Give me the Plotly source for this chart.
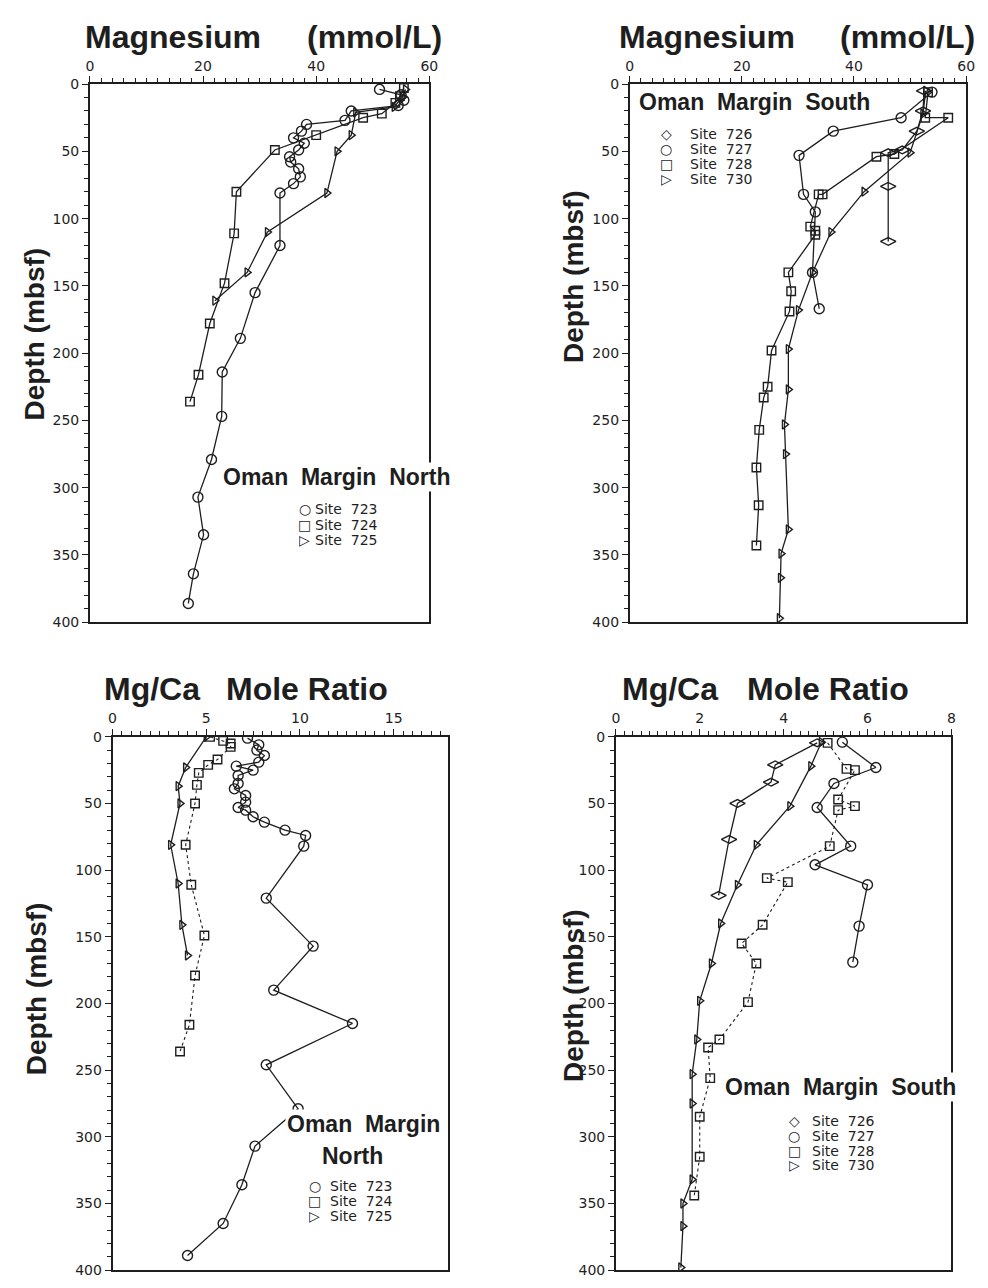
import plotly.graph_objects as go

W, H = 988, 1288

# ---------------- DATA ----------------
# Top-left: Magnesium (mmol/L), Oman Margin North
tl_723_depth = [4, 8, 12, 16, 20, 27, 30, 35, 40, 44, 49, 54, 58, 63, 69, 74, 81, 120, 155, 189, 214, 247, 279, 307, 335, 364, 386]
tl_723_mg = [51.2, 55.0, 55.5, 54.5, 46.2, 45.1, 38.3, 37.4, 36.0, 37.9, 36.9, 35.3, 35.5, 36.9, 37.2, 36.0, 33.6, 33.6, 29.2, 26.6, 23.4, 23.3, 21.5, 19.1, 20.1, 18.3, 17.4]
tl_724_depth = [3, 9, 14, 22, 25, 38, 49, 80, 111, 148, 178, 216, 236]
tl_724_mg = [55.5, 54.8, 54.0, 51.6, 48.3, 40.0, 32.7, 25.9, 25.5, 23.8, 21.2, 19.2, 17.7]
tl_725_depth = [4, 10, 17, 21, 38, 50, 81, 110, 140, 161]
tl_725_mg = [55.8, 55.2, 53.8, 47.0, 46.2, 43.7, 41.9, 31.4, 27.8, 22.1]

# Top-right: Magnesium (mmol/L), Oman Margin South
tr_726_depth = [5, 20, 35, 49, 51, 76, 117]
tr_726_mg = [52.5, 52.3, 51.2, 48.6, 46.1, 46.1, 46.1]
tr_727_depth = [6, 25, 35, 53, 82, 95, 140, 167]
tr_727_mg = [53.9, 48.4, 36.3, 30.2, 31.0, 33.1, 32.6, 33.8]
tr_728_depth = [6, 25, 25, 52, 54, 82, 82, 106, 109, 112, 140, 154, 169, 198, 225, 233, 257, 285, 313, 343]
tr_728_mg = [53.2, 52.7, 56.8, 47.2, 44.0, 34.4, 33.7, 32.2, 33.1, 33.1, 28.3, 28.8, 28.5, 25.3, 24.6, 23.9, 23.1, 22.6, 23.0, 22.6]
tr_730_depth = [5, 22, 51, 80, 110, 140, 168, 197, 227, 253, 275, 331, 349, 367, 397]
tr_730_mg = [52.8, 52.3, 50.0, 41.8, 35.9, 32.6, 30.1, 28.3, 28.3, 27.6, 27.8, 28.3, 27.0, 26.9, 26.7]

# Bottom-left: Mg/Ca mole ratio, Oman Margin North
bl_723_depth = [1, 6, 10, 14, 19, 22, 25, 29, 35, 39, 44, 49, 53, 55, 60, 64, 70, 74, 82, 121, 157, 190, 215, 246, 279, 307, 336, 365, 389]
bl_723_ratio = [7.2, 7.8, 7.7, 8.1, 7.8, 6.6, 7.5, 6.7, 6.7, 6.5, 7.1, 7.1, 6.7, 7.1, 7.5, 8.1, 9.2, 10.3, 10.2, 8.2, 10.7, 8.6, 12.8, 8.2, 9.9, 7.6, 6.9, 5.9, 4.0]
bl_724_depth = [0, 3, 5, 7.5, 17, 21, 27, 36, 50, 81, 111, 149, 179, 216, 236]
bl_724_ratio = [5.2, 5.9, 6.3, 6.3, 5.6, 5.1, 4.6, 4.5, 4.4, 3.9, 4.2, 4.9, 4.4, 4.1, 3.6]
bl_725_depth = [0, 23, 37, 50, 81, 110, 141, 164]
bl_725_ratio = [5.0, 3.9, 3.5, 3.6, 3.1, 3.5, 3.7, 4.0]

# Bottom-right: Mg/Ca mole ratio, Oman Margin South
br_726_depth = [4.5, 21, 34, 50, 77, 119]
br_726_ratio = [4.8, 3.8, 3.7, 2.9, 2.7, 2.45]
br_727_depth = [4, 23, 35, 53, 82, 96, 111, 142, 169]
br_727_ratio = [5.4, 6.2, 5.2, 4.8, 5.6, 4.75, 6.0, 5.8, 5.65]
br_728_depth = [4.5, 24, 25, 47, 52, 55, 82, 106, 109, 141, 155, 170, 199, 227, 233, 256, 285, 315, 344]
br_728_ratio = [5.05, 5.5, 5.7, 5.3, 5.7, 5.3, 5.1, 3.6, 4.1, 3.5, 3.0, 3.35, 3.15, 2.47, 2.2, 2.25, 2.0, 2.0, 1.87]
br_730_depth = [4, 22, 52, 81, 111, 140, 170, 198, 227, 253, 275, 332, 350, 367, 398]
br_730_ratio = [4.9, 4.65, 4.15, 3.35, 2.9, 2.5, 2.28, 2.0, 1.93, 1.82, 1.82, 1.82, 1.6, 1.6, 1.55]

site_labels_north = ["Site 723", "Site 724", "Site 725"]
site_labels_south = ["Site 726", "Site 727", "Site 728", "Site 730"]

# ---------------- STYLE ----------------
INK = "#1e1e1e"
SYM = {"723": ("circle-open", 10), "724": ("square-open", 8.5), "725": ("triangle-right-open", 8),
       "726": ("diamond-wide-open", 11), "727": ("circle-open", 10), "728": ("square-open", 8.5),
       "730": ("triangle-right-open", 8)}

fig = go.Figure()


def add(x, y, site, ax, dash="solid"):
    sym, size = SYM[site]
    fig.add_trace(go.Scatter(
        x=x, y=y, mode="lines+markers", showlegend=False,
        xaxis="x" + ax, yaxis="y" + ax,
        line=dict(color=INK, width=1.3 if dash == "solid" else 1.1, dash=dash),
        marker=dict(symbol=sym, size=size, color=INK, line=dict(width=1.4, color=INK)),
        name="Site " + site))


add(tl_723_mg, tl_723_depth, "723", "")
add(tl_724_mg, tl_724_depth, "724", "")
add(tl_725_mg, tl_725_depth, "725", "")

add(tr_726_mg, tr_726_depth, "726", "2")
add(tr_727_mg, tr_727_depth, "727", "2")
add(tr_728_mg, tr_728_depth, "728", "2")
add(tr_730_mg, tr_730_depth, "730", "2")

add(bl_723_ratio, bl_723_depth, "723", "3")
add(bl_724_ratio, bl_724_depth, "724", "3", dash="dot")
add(bl_725_ratio, bl_725_depth, "725", "3")

add(br_726_ratio, br_726_depth, "726", "4")
add(br_727_ratio, br_727_depth, "727", "4")
add(br_728_ratio, br_728_depth, "728", "4", dash="dot")
add(br_730_ratio, br_730_depth, "730", "4")


def dx(a, b):
    return [a / W, b / W]


def dy(top, bottom):
    return [1 - bottom / H, 1 - top / H]


tickfont = dict(family="DejaVu Sans", size=14, color=INK)


def xax(rng, dtick, minor, dom, anchor):
    return dict(range=rng, domain=dom, anchor=anchor, side="top", dtick=dtick, tick0=0,
                showline=True, mirror=True, linecolor=INK, linewidth=1.6,
                ticks="outside", ticklen=6, tickwidth=1.3, tickcolor=INK,
                minor=dict(dtick=minor, tick0=0, ticks="outside", ticklen=4, tickwidth=1.1, tickcolor=INK),
                showgrid=False, zeroline=False, tickfont=tickfont, fixedrange=True)


def yax(dom, anchor):
    return dict(range=[400, 0], domain=dom, anchor=anchor, dtick=50, tick0=0,
                showline=True, mirror=True, linecolor=INK, linewidth=1.6,
                ticks="outside", ticklen=6, tickwidth=1.3, tickcolor=INK,
                minor=dict(dtick=10, tick0=0, ticks="outside", ticklen=4, tickwidth=1.1, tickcolor=INK),
                showgrid=False, zeroline=False, tickfont=tickfont, fixedrange=True)


fig.update_layout(
    width=W, height=H, margin=dict(l=0, r=0, t=0, b=0),
    paper_bgcolor="white", plot_bgcolor="white",
    xaxis=xax([0, 60], 20, 2, dx(87, 431), "y"),
    yaxis=yax(dy(77, 622), "x"),
    xaxis2=xax([0, 60], 20, 2, dx(634, 975), "y2"),
    yaxis2=yax(dy(77, 622), "x2"),
    xaxis3=xax([0, 17.9], 5, 0.5, dx(110, 450), "y3"),
    yaxis3=yax(dy(738, 1278), "x3"),
    xaxis4=xax([0, 8], 2, 0.2, dx(620, 960), "y4"),
    yaxis4=yax(dy(738, 1278), "x4"),
)

ann = []
BOLD = "Liberation Sans"
NB = "\u00a0"


def text(px, py, t, size, family=BOLD, bold=True, xanchor="left", bg=None, angle=0, height=None):
    d = dict(x=px / W, y=1 - py / H, xref="paper", yref="paper", showarrow=False,
             text=("<b>%s</b>" % t) if bold else t, xanchor=xanchor, yanchor="middle",
             font=dict(family=family, size=size, color=INK), textangle=angle)
    if bg:
        d["bgcolor"] = bg
        d["borderpad"] = 1
    if height:
        d["height"] = height
        d["borderpad"] = 0
    ann.append(d)


# Titles
text(80, 29, "Magnesium", 32)
text(446, 29, "(mmol/L)", 32, xanchor="right")
text(621, 29, "Magnesium", 32)
text(986, 29, "(mmol/L)", 32, xanchor="right")
text(99, 690, "Mg/Ca", 32)
text(391, 690, "Mole" + NB + "Ratio", 32, xanchor="right")
text(624, 690, "Mg/Ca", 32)
text(919, 690, "Mole" + NB + "Ratio", 32, xanchor="right")

# Axis titles
for (px, py) in [(31, 330), (577, 272), (33, 993), (577, 1000)]:
    text(px, py, "Depth" + NB + "(mbsf)", 28, xanchor="center", angle=-90)

# Group labels
gap = NB + NB
text(337, 475, "Oman" + gap + "Margin" + gap + "North", 23, xanchor="center", bg="white")
text(760, 95, "Oman" + gap + "Margin" + gap + "South", 23, xanchor="center")
text(364, 1130, "Oman" + gap + "Margin", 23, xanchor="center", bg="white")
text(353, 1162, "North", 23, xanchor="center")
text(848, 1093, "Oman" + gap + "Margin" + gap + "South", 23, xanchor="center", bg="white")

# Legend rows
glyph = {"723": "\u25CB", "724": "\u25A1", "725": "\u25B7", "726": "\u25C7", "727": "\u25CB", "728": "\u25A1", "730": "\u25B7"}


def legend(sym_x, txt_x, rows, labels, size, sym_size=14):
    rh = rows[1] - rows[0] - 1
    for py, lab in zip(rows, labels):
        site = lab.split()[-1]
        text(sym_x, py, glyph[site], sym_size, family="DejaVu Sans", bold=False, xanchor="center", height=rh)
        text(txt_x, py, lab.replace(" ", NB + NB), size, family="DejaVu Sans", bold=False, height=rh)


legend(305, 314, [507, 523, 538], site_labels_north, 14)
legend(671, 694, [128, 143, 158, 173], site_labels_south, 14, sym_size=14)
legend(315, 329, [1193, 1208, 1223], site_labels_north, 14)
legend(801, 818, [1127, 1142, 1157, 1172], site_labels_south, 14)

fig.update_layout(annotations=ann)
fig.write_html(
    "out.html",
    config={"displayModeBar": False},
    post_script="document.body.style.margin='0';document.body.style.padding='0';"
                "document.documentElement.style.overflow='hidden';",
)
